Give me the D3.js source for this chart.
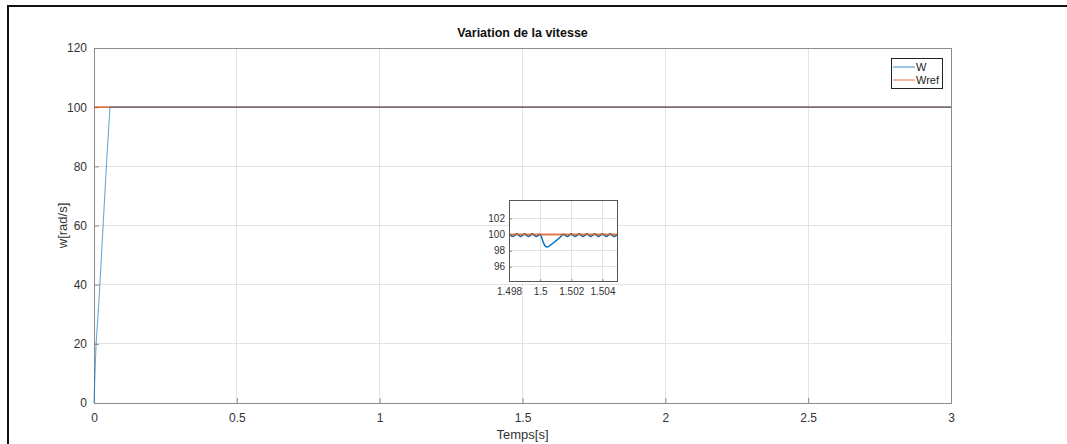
<!DOCTYPE html>
<html>
<head>
<meta charset="utf-8">
<script src="https://cdn.jsdelivr.net/npm/d3@7"></script>
<style>
  html, body { margin: 0; padding: 0; background: #fff; overflow: hidden; }
  svg { display: block; font-family: "Liberation Sans", Arial, sans-serif; }
</style>
</head>
<body>
<svg id="chart" width="1067" height="444"></svg>
<script>
// Speed response W and reference Wref over the full run
const timeW = [0, 0.007, 0.0175, 0.0455, 0.056, 3];
const speedW = [0, 19.6, 34.8, 83.8, 100, 100];
const timeRef = [0, 3];
const speedRef = [100, 100];

// Zoomed detail around the load step at t = 1.5 s
const zoomT = [1.498, 1.49825, 1.4985, 1.49875, 1.499, 1.49925, 1.4995, 1.49975, 1.5,
  1.5001, 1.5002, 1.5003, 1.50046, 1.5007, 1.501, 1.5013, 1.50148,
  1.50175, 1.502, 1.50225, 1.5025, 1.50275, 1.503, 1.50325, 1.5035, 1.50375,
  1.504, 1.50425, 1.5045, 1.50475, 1.505];
const zoomW = [100.05, 99.75, 100.1, 99.75, 100.1, 99.75, 100.1, 99.75, 100.05,
  99.6, 99.05, 98.65, 98.45, 98.75, 99.2, 99.7, 100.05,
  99.75, 100.1, 99.75, 100.1, 99.75, 100.1, 99.75, 100.1, 99.75,
  100.1, 99.75, 100.1, 99.75, 100.05];
const zoomRefT = [1.498, 1.505];
const zoomRefW = [100, 100];

// Tick values
const xTicks = [0, 0.5, 1, 1.5, 2, 2.5, 3];
const yTicks = [0, 20, 40, 60, 80, 100, 120];
const zoomXTicks = [1.498, 1.5, 1.502, 1.504];
const zoomYTicks = [96, 98, 100, 102];

const title = "Variation de la vitesse";
const xLabel = "Temps[s]";
const yLabel = "w[rad/s]";
const seriesNames = ["W", "Wref"];

const blue = "#0072BD";
const orange = "#D95319";
const axisGray = "#8c8c8c";
const gridGray = "#e3e3e3";
const textGray = "#333333";

const svg = d3.select("#chart");

// Outer figure frame
svg.append("rect")
  .attr("x", 8).attr("y", 6).attr("width", 1200).attr("height", 600)
  .attr("fill", "#fff").attr("stroke", "#111").attr("stroke-width", 2);

const plot = { left: 94, right: 951, top: 48, bottom: 403 };
const x = d3.scaleLinear().domain([0, 3]).range([plot.left, plot.right]);
const y = d3.scaleLinear().domain([0, 120]).range([plot.bottom, plot.top]);

// Grid
const grid = svg.append("g");
grid.selectAll("line.gx").data(xTicks).join("line")
  .attr("x1", d => x(d)).attr("x2", d => x(d))
  .attr("y1", plot.top).attr("y2", plot.bottom)
  .attr("stroke", gridGray).attr("shape-rendering", "crispEdges");
grid.selectAll("line.gy").data(yTicks).join("line")
  .attr("x1", plot.left).attr("x2", plot.right)
  .attr("y1", d => y(d)).attr("y2", d => y(d))
  .attr("stroke", gridGray).attr("shape-rendering", "crispEdges");

// Axes
const xAxis = svg.append("g").attr("transform", `translate(0,${plot.bottom})`)
  .call(d3.axisBottom(x).tickValues(xTicks).tickSizeInner(-5).tickSizeOuter(0).tickPadding(10).tickFormat(d3.format("")));
const yAxis = svg.append("g").attr("transform", `translate(${plot.left},0)`)
  .call(d3.axisLeft(y).tickValues(yTicks).tickSizeInner(-5).tickSizeOuter(0).tickPadding(7).tickFormat(d3.format("")));
[xAxis, yAxis].forEach(a => {
  a.select(".domain").remove();
  a.selectAll(".tick line").attr("stroke", axisGray);
  a.selectAll(".tick text").attr("fill", textGray).attr("font-size", 12)
    .attr("font-family", "Liberation Sans, Arial, sans-serif");
});

// Box
svg.append("rect")
  .attr("x", plot.left).attr("y", plot.top)
  .attr("width", plot.right - plot.left).attr("height", plot.bottom - plot.top)
  .attr("fill", "none").attr("stroke", axisGray).attr("shape-rendering", "crispEdges");

// Series
const line = d3.line().x(d => x(d[0])).y(d => y(d[1]));
svg.append("path").datum(d3.zip(timeRef, speedRef))
  .attr("d", line).attr("fill", "none").attr("stroke", orange).attr("stroke-width", 1.6).attr("stroke-opacity", 0.8);
svg.append("path").datum(d3.zip(timeW, speedW))
  .attr("d", line).attr("fill", "none").attr("stroke", blue).attr("stroke-width", 1.1).attr("stroke-opacity", 0.6);

// Title and labels
svg.append("text").attr("x", (plot.left + plot.right) / 2).attr("y", 37)
  .attr("text-anchor", "middle").attr("font-size", 12.5).attr("font-weight", "bold")
  .attr("fill", "#111").text(title);
svg.append("text").attr("x", (plot.left + plot.right) / 2).attr("y", 439)
  .attr("text-anchor", "middle").attr("font-size", 13).attr("fill", textGray).text(xLabel);
svg.append("text").attr("transform", `translate(67,${(plot.top + plot.bottom) / 2}) rotate(-90)`)
  .attr("text-anchor", "middle").attr("font-size", 13).attr("fill", textGray).text(yLabel);

// Legend
const lg = svg.append("g");
lg.append("rect").attr("x", 891.5).attr("y", 58.5).attr("width", 51).attr("height", 30)
  .attr("fill", "#fff").attr("stroke", "#222").attr("stroke-width", 1);
seriesNames.forEach((name, i) => {
  const yy = 67 + i * 13;
  lg.append("line").attr("x1", 893).attr("x2", 915).attr("y1", yy).attr("y2", yy)
    .attr("stroke", i === 0 ? blue : orange).attr("stroke-width", 1).attr("stroke-opacity", 0.8);
  lg.append("text").attr("x", 916).attr("y", yy + 4).attr("font-size", 11)
    .attr("fill", "#222").text(name);
});

// Inset detail
const inset = { left: 509, right: 618, top: 200, bottom: 282 };
const xi = d3.scaleLinear().domain([1.498, 1.505]).range([inset.left, inset.right]);
const yi = d3.scaleLinear().domain([94.1, 104.3]).range([inset.bottom, inset.top]);
const ig = svg.append("g");
ig.append("rect").attr("x", inset.left).attr("y", inset.top)
  .attr("width", inset.right - inset.left).attr("height", inset.bottom - inset.top)
  .attr("fill", "#fff");
ig.selectAll("line.gx").data(zoomXTicks).join("line")
  .attr("x1", d => xi(d)).attr("x2", d => xi(d))
  .attr("y1", inset.top).attr("y2", inset.bottom)
  .attr("stroke", gridGray).attr("shape-rendering", "crispEdges");
ig.selectAll("line.gy").data(zoomYTicks).join("line")
  .attr("x1", inset.left).attr("x2", inset.right)
  .attr("y1", d => yi(d)).attr("y2", d => yi(d))
  .attr("stroke", gridGray).attr("shape-rendering", "crispEdges");
const ixAxis = ig.append("g").attr("transform", `translate(0,${inset.bottom})`)
  .call(d3.axisBottom(xi).tickValues(zoomXTicks).tickSizeInner(-3).tickSizeOuter(0).tickPadding(6).tickFormat(d3.format("")));
const iyAxis = ig.append("g").attr("transform", `translate(${inset.left},0)`)
  .call(d3.axisLeft(yi).tickValues(zoomYTicks).tickSizeInner(-3).tickSizeOuter(0).tickPadding(4).tickFormat(d3.format("")));
[ixAxis, iyAxis].forEach(a => {
  a.select(".domain").remove();
  a.selectAll(".tick line").attr("stroke", axisGray);
  a.selectAll(".tick text").attr("fill", textGray).attr("font-size", 10)
    .attr("font-family", "Liberation Sans, Arial, sans-serif");
});
svg.append("clipPath").attr("id", "insetClip").append("rect")
  .attr("x", inset.left).attr("y", inset.top)
  .attr("width", inset.right - inset.left).attr("height", inset.bottom - inset.top);
const iline = d3.line().x(d => xi(d[0])).y(d => yi(d[1])).curve(d3.curveMonotoneX);
const ic = ig.append("g").attr("clip-path", "url(#insetClip)");
ic.append("path").datum(d3.zip(zoomT, zoomW))
  .attr("d", iline).attr("fill", "none").attr("stroke", blue).attr("stroke-width", 1.5);
ic.append("path").datum(d3.zip(zoomRefT, zoomRefW))
  .attr("d", iline).attr("fill", "none").attr("stroke", orange).attr("stroke-width", 2).attr("stroke-opacity", 0.75);
ig.append("rect").attr("x", inset.left + 0.5).attr("y", inset.top + 0.5)
  .attr("width", inset.right - inset.left - 1).attr("height", inset.bottom - inset.top - 1)
  .attr("fill", "none").attr("stroke", "#555");
</script>
</body>
</html>
